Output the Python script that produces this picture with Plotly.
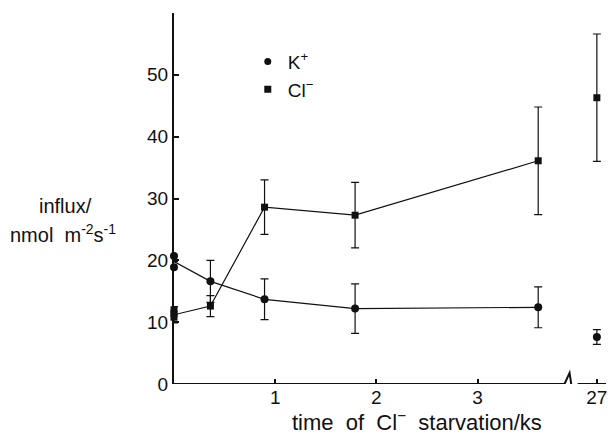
import plotly.graph_objects as go

# Time of Cl- starvation (ks); the 27 ks point sits beyond an axis break
BREAK_POS = 4.18          # axis position used for the 27 ks sample
t_main = [0.0, 0.36, 0.895, 1.79, 3.6]
x_tick_vals = [1, 2, 3, BREAK_POS]
x_tick_text = ["1", "2", "3", "27"]

# K+ influx (nmol m-2 s-1)
k_mean = [19.8, 16.6, 13.7, 12.2, 12.4]
k_err = [0.0, 3.4, 3.3, 4.0, 3.3]
k_zero_reps = [20.7, 18.9]
k_late = [7.6]
k_late_err = [1.2]

# Cl- influx (nmol m-2 s-1)
cl_mean = [11.2, 12.6, 28.6, 27.3, 36.1]
cl_err = [1.3, 1.7, 4.4, 5.3, 8.7]
cl_zero_reps = [12.0, 11.4, 10.8]
cl_late = [46.3]
cl_late_err = [10.3]

y_tick_vals = [0, 10, 20, 30, 40, 50]

FONT = "Liberation Sans"
BLACK = "#111111"
K_SIZE = 8
CL_SIZE = 7

fig = go.Figure()

err_style = dict(type="data", thickness=1.2, width=4, color=BLACK)


def add_points(x, y, symbol, size, err=None):
    fig.add_trace(go.Scatter(
        x=x, y=y, mode="markers",
        marker=dict(symbol=symbol, size=size, color=BLACK, line=dict(width=0)),
        error_y=dict(array=err, **err_style) if err is not None else None,
        showlegend=False, cliponaxis=False))


# connecting lines through the means, with their error bars
fig.add_trace(go.Scatter(
    x=t_main, y=k_mean, mode="lines", line=dict(color=BLACK, width=1.2),
    error_y=dict(array=k_err, **err_style), showlegend=False, cliponaxis=False))
fig.add_trace(go.Scatter(
    x=t_main, y=cl_mean, mode="lines", line=dict(color=BLACK, width=1.2),
    error_y=dict(array=cl_err, **err_style), showlegend=False, cliponaxis=False))

# mean markers after t = 0
add_points(t_main[1:], k_mean[1:], "circle", K_SIZE)
add_points(t_main[1:], cl_mean[1:], "square", CL_SIZE)

# replicate values at t = 0
add_points([0] * len(k_zero_reps), k_zero_reps, "circle", K_SIZE)
add_points([0] * len(cl_zero_reps), cl_zero_reps, "square", CL_SIZE)

# 27 ks samples, not joined to the rest
add_points([BREAK_POS], k_late, "circle", K_SIZE, k_late_err)
add_points([BREAK_POS], cl_late, "square", CL_SIZE, cl_late_err)

# legend entries
fig.add_trace(go.Scatter(
    x=[None], y=[None], mode="markers", name="K<sup>+</sup>",
    marker=dict(symbol="circle", size=7, color=BLACK)))
fig.add_trace(go.Scatter(
    x=[None], y=[None], mode="markers", name="Cl<sup>\u2212</sup>",
    marker=dict(symbol="square", size=7, color=BLACK)))

# broken x axis line
fig.add_shape(type="path", xref="x", yref="y",
              path="M 0,0 L 3.86,0 L 3.91,1.8 L 3.935,-0.9 L 4.0,0 L 4.27,0",
              line=dict(color=BLACK, width=2))

fig.update_xaxes(range=[0, 4.29], showline=False, showgrid=False, zeroline=False,
                 tickmode="array", tickvals=x_tick_vals, ticktext=x_tick_text,
                 ticks="inside", ticklen=5, tickwidth=1.5, tickcolor=BLACK,
                 tickfont=dict(family=FONT, size=19, color=BLACK))
fig.update_yaxes(range=[0, 60], showline=True, linewidth=2, linecolor=BLACK,
                 showgrid=False, zeroline=False,
                 tickmode="array", tickvals=y_tick_vals,
                 ticks="inside", ticklen=5, tickwidth=1.5, tickcolor=BLACK,
                 tickfont=dict(family=FONT, size=19, color=BLACK))

fig.add_annotation(xref="paper", yref="paper", x=0.56, y=-0.1,
                   xanchor="center", yanchor="middle", showarrow=False,
                   text="time  of  Cl<sup>\u2212</sup>  starvation/ks",
                   font=dict(family=FONT, size=22, color=BLACK))
fig.add_annotation(xref="paper", yref="paper", x=-0.25, y=0.48,
                   xanchor="center", yanchor="middle", showarrow=False,
                   text="influx/",
                   font=dict(family=FONT, size=20, color=BLACK))
fig.add_annotation(xref="paper", yref="paper", x=-0.255, y=0.405,
                   xanchor="center", yanchor="middle", showarrow=False,
                   text="nmol  m<sup>-2</sup>s<sup>-1</sup>",
                   font=dict(family=FONT, size=20, color=BLACK))

fig.update_layout(
    width=608, height=438,
    margin=dict(l=174, r=0, t=13, b=54),
    plot_bgcolor="white", paper_bgcolor="white",
    legend=dict(x=0.17, y=0.92, xanchor="left", yanchor="top",
                bgcolor="rgba(0,0,0,0)", tracegroupgap=0,
                font=dict(family=FONT, size=19, color=BLACK), itemwidth=30),
)

fig.write_html("out.html")
